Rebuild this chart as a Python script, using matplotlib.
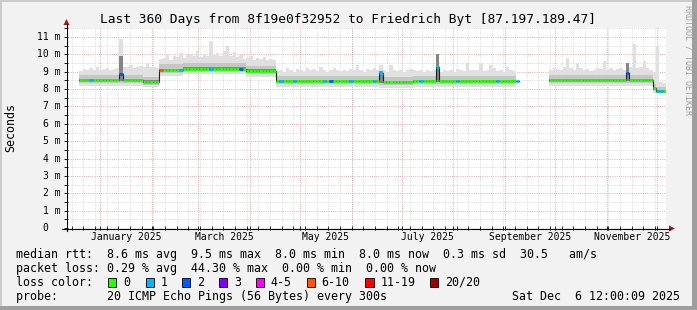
import datetime as dt

import matplotlib

matplotlib.use("Agg")
import matplotlib.pyplot as plt
import numpy as np
from matplotlib.lines import Line2D
from matplotlib.patches import Polygon, Rectangle
from matplotlib.transforms import blended_transform_factory

# %% data
start = dt.datetime(2024, 12, 11, 12, 0, 9)
n_days = 360
bin_days = 2

# median rtt (ms) per stretch, stretch start in days after `start`
seg_day = [8, 46, 56, 70, 108, 126, 188, 208, 272, 290, 352, 355]
seg_med = [8.53, 8.43, 9.10, 9.18, 9.06, 8.48, 8.41, 8.48, np.nan, 8.52, 8.05, 7.92]
seg_min = [8.20, 8.14, 8.76, 8.85, 8.72, 8.15, 8.08, 8.15, np.nan, 8.18, 7.78, 7.70]
seg_p25 = [8.34, 8.26, 8.92, 9.00, 8.88, 8.30, 8.23, 8.30, np.nan, 8.34, 7.88, 7.78]
seg_p45 = [8.44, 8.35, 9.02, 9.10, 8.98, 8.40, 8.33, 8.40, np.nan, 8.44, 7.97, 7.85]
seg_p55 = [8.60, 8.50, 9.18, 9.26, 9.14, 8.55, 8.48, 8.55, np.nan, 8.60, 8.12, 7.97]
seg_p75 = [8.80, 8.72, 9.42, 9.50, 9.36, 8.76, 8.70, 8.76, np.nan, 8.80, 8.28, 8.10]

# slowest ping per 2-day bin (ms)
nan = np.nan
smoke_max = [
    nan, nan, nan, nan,
    9.05, 9.15, 9.10, 9.20, 9.10, 9.30, 9.10, 9.15, 9.20, 9.10, 9.15, 9.20,
    10.90,
    9.30, 9.25, 9.40, 9.20, 9.30, 9.35, 9.25, 9.50, 9.30, 9.25, 9.20,
    9.75, 9.80, 10.05, 9.70, 9.90, 9.85, 10.10, 9.80, 9.95, 10.00,
    9.90, 10.20, 9.85, 10.05, 9.90, 10.80, 9.95, 10.10, 9.90, 10.20,
    10.50, 9.90, 10.15, 9.85, 9.95, 9.75, 9.80, 9.90, 9.70, 9.80,
    9.75, 9.85, 9.70, 9.75, 9.70,
    9.05, 9.10, 9.00, 9.20, 9.10, 9.00, 9.15, 9.10, 9.05, 9.20,
    9.10, 9.15, 9.05, 9.30, 9.10, 9.00, 9.10, 9.20, 9.10, 9.05,
    9.10, 9.05, 9.15, 9.10, 9.40, 9.10, 9.00, 9.15, 9.10, 9.20,
    9.10, 9.40, 9.10, 9.00, 9.40, 9.10, 9.05, 9.10, 9.00, 9.10,
    9.15, 9.10, 9.05, 9.10, 9.00, 9.10, 9.05, 9.10, 10.05, 9.00,
    9.10, 9.05, 9.10, 9.00, 9.15, 9.10, 9.05, 9.50, 9.10, 9.10,
    9.10, 9.50, 9.05, 9.10, 9.40, 9.20, 9.05, 9.10, 9.00, 9.30, 9.10, 9.05, 9.00,
    nan, nan, nan, nan, nan, nan, nan, nan, nan,
    9.10, 9.20, 9.15, 9.10, 9.30, 9.77, 9.20, 9.10, 9.50, 9.20,
    9.10, 9.15, 9.05, 9.10, 9.20, 9.15, 9.60, 9.10, 9.20, 9.10,
    9.15, 9.20, 9.10, 9.50, 9.30, 10.60, 9.20, 9.30, 9.60, 9.20,
    9.10, 8.90, 10.45, 8.40, 8.35,
]

# bins with a wide spread: median and top of the dark band
spike_bin = [16, 94, 111, 168]
spike_med = [8.85, 8.95, 9.25, 8.90]
spike_top = [9.90, 9.05, 10.05, 9.50]

# bins whose median carries packet loss (index into loss_colors)
loss_bin = [7, 16, 28, 34, 43, 52, 64, 68, 77, 79, 85, 92, 94, 106, 111, 117, 129, 135, 168, 177, 178]
loss_cls = [1, 2, 5, 1, 1, 2, 1, 1, 1, 2, 1, 1, 1, 1, 1, 1, 1, 1, 2, 1, 1]

loss_labels = ["0", "1", "2", "3", "4-5", "6-10", "11-19", "20/20"]
loss_colors = ["#26ff00", "#00b8ff", "#0059ff", "#7e00ff", "#ff00ff", "#ff5500", "#ff0000", "#a10000"]

month_labels = ["January 2025", "March 2025", "May 2025", "July 2025", "September 2025", "November 2025"]
label_months = [1, 3, 5, 7, 9, 11]

# %% per-bin arrays
n_bins = n_days // bin_days
left = np.arange(n_bins) * bin_days
centre = left + bin_days / 2
idx = np.searchsorted(seg_day, centre, side="right") - 1
valid = (idx >= 0) & (centre < 359.5)


def per_bin(seg):
    out = np.array(seg)[np.clip(idx, 0, None)]
    return np.where(valid, out, np.nan)


med = per_bin(seg_med)
s_min = per_bin(seg_min)
p25 = per_bin(seg_p25)
p45 = per_bin(seg_p45)
p55 = per_bin(seg_p55)
p75 = per_bin(seg_p75)
s_max = np.array(smoke_max)
med[spike_bin] = spike_med
p55[spike_bin] = spike_top
p75[spike_bin] = np.maximum(p75[spike_bin], spike_top)

colors = [loss_colors[0]] * n_bins
for b, c in zip(loss_bin, loss_cls):
    colors[b] = loss_colors[c]


def day_of(d):
    return (d - start).total_seconds() / 86400


month_starts = [day_of(dt.datetime(2025, m, 1)) for m in range(1, 13)]
sundays = [day_of(dt.datetime(2024, 12, 15) + dt.timedelta(days=7 * k)) for k in range(52)]
sundays = [s for s in sundays if 0 < s < n_days]

# %% figure
W, H = 697, 310
fig = plt.figure(figsize=(W / 100, H / 100), dpi=100, facecolor="#f2f2f2")
mono = "DejaVu Sans Mono"


def fx(px):
    return px / W


def fy(py):
    return 1 - py / H


px_per_ms = 17.36
ax = fig.add_axes([fx(66), fy(228), 600 / W, 200 / H])
ax.set_xlim(0, n_days)
ax.set_ylim(0, 200 / px_per_ms)
ax.set_facecolor("white")
for s in ax.spines.values():
    s.set_visible(False)
ax.set_xticks(month_starts)
ax.set_xticks(sundays, minor=True)
ax.set_yticks(np.arange(0, 12, 1))
ax.set_yticks(np.arange(0.5, 11.6, 1), minor=True)
ax.tick_params(which="both", length=2.5, width=0.6, direction="inout", labelleft=False, labelbottom=False)

# grid
dot = (0, (1, 1.6))
minor_c = "#cfcfcf"
major_c = "#f08c8c"
for y in np.arange(0.5, 11.6, 1):
    ax.axhline(y, color=minor_c, lw=0.6, ls=dot, zorder=1)
for x in sundays:
    ax.axvline(x, color=minor_c, lw=0.6, ls=dot, zorder=1)
for y in np.arange(1, 12, 1):
    ax.axhline(y, color=major_c, lw=0.6, ls=dot, zorder=1)
for x in month_starts:
    ax.axvline(x, color=major_c, lw=0.6, ls=dot, zorder=1)


def step_fill(lo, hi, color, z):
    edges = np.append(left, n_days)
    ax.fill_between(edges, np.append(lo, lo[-1]), np.append(hi, hi[-1]),
                    step="post", color=color, lw=0, zorder=z)


step_fill(s_min, s_max, "#e0e0e0", 2)
step_fill(p25, p75, "#c6c6c6", 3)
step_fill(p45, p55, "#858585", 4)

edges = np.append(left, n_days)
ax.step(edges, np.append(med, med[-1]), where="post", color="#202020", lw=0.8, zorder=5)
ax.hlines(med, left, left + bin_days, colors=colors, lw=2.0, zorder=6)

# y tick labels
ytr = blended_transform_factory(fig.transFigure, ax.transData)
for v in range(0, 12):
    if v == 0:
        ax.text(fx(48.5), v, "0", transform=ytr, ha="right", va="center", family=mono, size=7)
    else:
        ax.text(fx(60.5), v, f"{v} m", transform=ytr, ha="right", va="center", family=mono, size=7)

# month labels centred in their month
xtr = blended_transform_factory(ax.transData, fig.transFigure)
for m, lab in zip(label_months, month_labels):
    mid = (day_of(dt.datetime(2025, m, 1)) + day_of(dt.datetime(2025, m + 1, 1))) / 2
    ax.text(mid, fy(237.5), lab, transform=xtr, ha="center", va="center", family=mono, size=7)

# axes lines and arrows
fig.add_artist(Line2D([fx(66.5), fx(66.5)], [fy(231), fy(24)], color="black", lw=0.8))
fig.add_artist(Line2D([fx(62), fx(670)], [fy(228.5), fy(228.5)], color="black", lw=0.8))
arrow_c = "#9b1c1c"
fig.add_artist(Polygon([(fx(63.5), fy(25)), (fx(69.5), fy(25)), (fx(66.5), fy(19))], closed=True,
                       transform=fig.transFigure, color=arrow_c, lw=0))
fig.add_artist(Polygon([(fx(669), fy(225.5)), (fx(669), fy(231.5)), (fx(675), fy(228.5))], closed=True,
                       transform=fig.transFigure, color=arrow_c, lw=0))

# frame
fig.add_artist(Rectangle((fx(692), 0), fx(5), 1, transform=fig.transFigure, color="#9e9e9e", lw=0))
fig.add_artist(Rectangle((0, 0), 1, 4 / H, transform=fig.transFigure, color="#9e9e9e", lw=0))
fig.add_artist(Rectangle((0, fy(2)), fx(692), 2 / H, transform=fig.transFigure, color="#cbcbcb", lw=0))
fig.add_artist(Rectangle((0, 4 / H), fx(2), 1, transform=fig.transFigure, color="#cbcbcb", lw=0))

# texts
fig.text(fx(348), fy(19), "Last 360 Days from 8f19e0f32952 to Friedrich Byt [87.197.189.47]",
         ha="center", va="center", family=mono, size=9.3)
fig.text(fx(11), fy(128), "Seconds", rotation=90, ha="center", va="center", family=mono, size=8.4)
fig.text(fx(688), fy(5), "RRDTOOL / TOBI OETIKER", rotation=-90, ha="center", va="top",
         family=mono, size=6, color="#a0a0a0")

lx = fx(16.4)
fig.text(lx, fy(254.3), "median rtt:  8.6 ms avg  9.5 ms max  8.0 ms min  8.0 ms now  0.3 ms sd  30.5   am/s",
         ha="left", va="center", family=mono, size=8.4)
fig.text(lx, fy(268.3), "packet loss: 0.29 % avg  44.30 % max  0.00 % min  0.00 % now",
         ha="left", va="center", family=mono, size=8.4)
fig.text(lx, fy(282.3), "loss color:", ha="left", va="center", family=mono, size=8.4)
box_x = [108, 145.8, 182, 219, 255.6, 306.7, 365.3, 430]
for bx, lab, col in zip(box_x, loss_labels, loss_colors):
    fig.add_artist(Rectangle((fx(bx), fy(286.5)), 8.4 / W, 8.4 / H, transform=fig.transFigure,
                             facecolor=col, edgecolor="black", lw=0.6))
    fig.text(fx(bx + 15), fy(282.3), lab, ha="left", va="center", family=mono, size=8.4)
fig.text(lx, fy(296.3), "probe:       20 ICMP Echo Pings (56 Bytes) every 300s",
         ha="left", va="center", family=mono, size=8.4)
fig.text(fx(680), fy(296.3), "Sat Dec  6 12:00:09 2025", ha="right", va="center", family=mono, size=8.4)

fig.savefig("out.png", dpi=100, facecolor=fig.get_facecolor())
